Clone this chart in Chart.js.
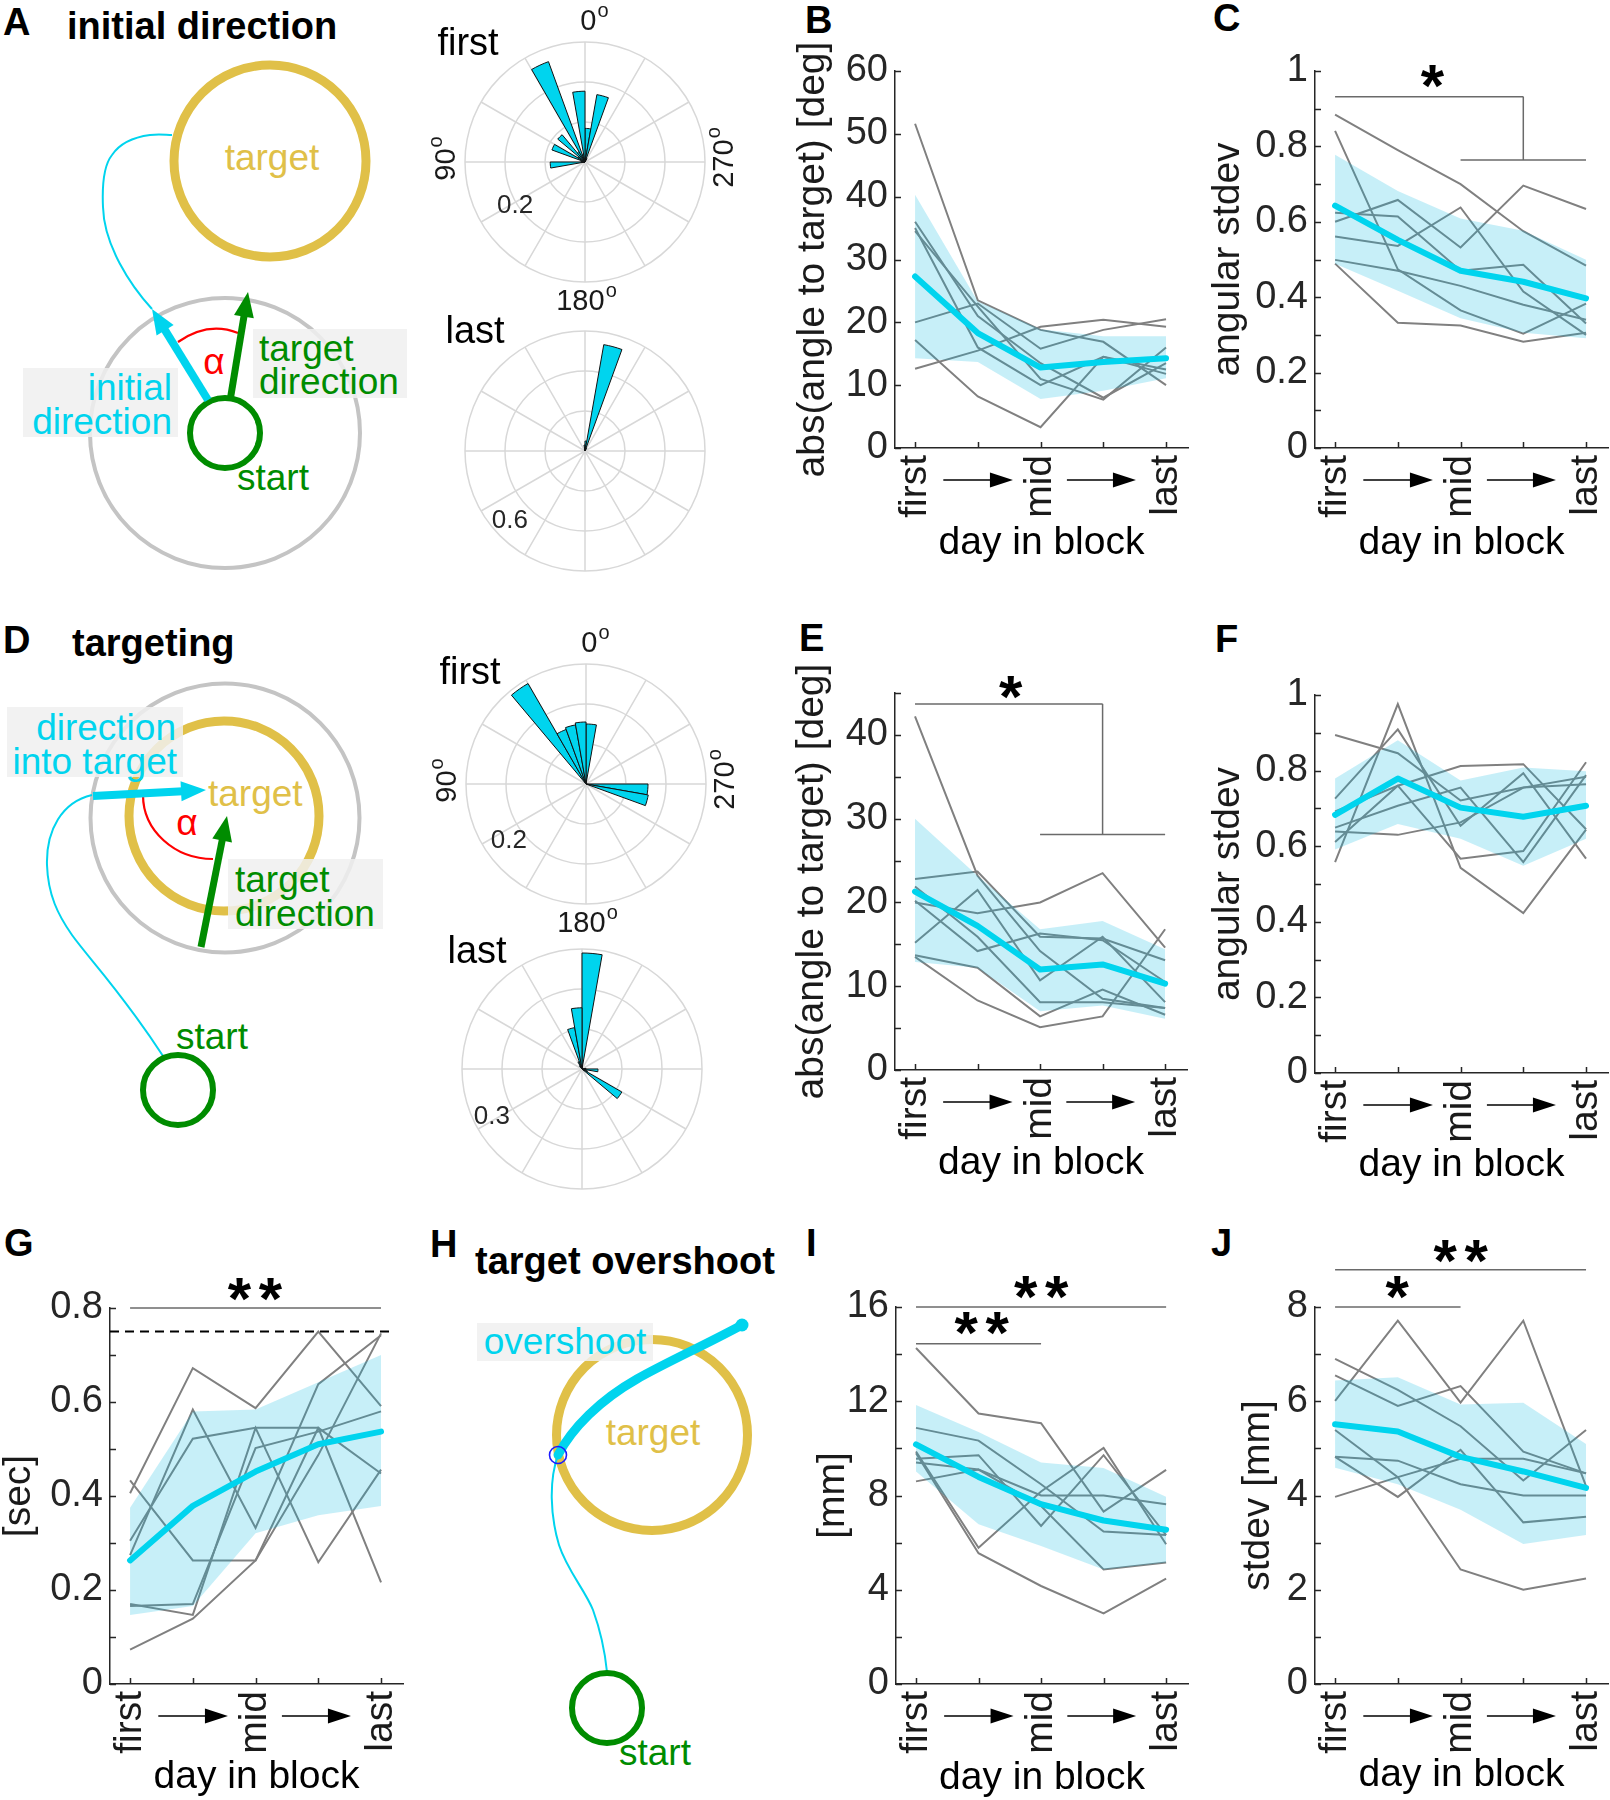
<!DOCTYPE html>
<html>
<head>
<meta charset="utf-8">
<script src="https://cdn.jsdelivr.net/npm/chart.js@4.4.0/dist/chart.umd.min.js"></script>
<style>
  body { margin: 0; background: #fff; }
  #fig { position: relative; width: 1610px; height: 1800px; overflow: hidden; background: #fff; }
  #fig canvas { position: absolute; }
  #sketch { position: absolute; left: 0; top: 0; font-family: "Liberation Sans", Arial, sans-serif; }
  #sketch text { dominant-baseline: central; }
  .lab { font-weight: bold; font-size: 38px; fill: #000; }
  .t37 { font-size: 37px; }
</style>
</head>
<body>
<div id="fig">
<svg id="sketch" width="1610" height="1800"></svg>
</div>
<script>
// ---- data ----
const days = [1, 2, 3, 4, 5];
const dayLabels = ["first", "", "mid", "", "last"];
const arrowSpans = [[1.45, 2.56], [3.42, 4.52]];

// B: initial direction, abs angle
const bMean = [27.3, 18.3, 12.8, 13.7, 14.3];
const bUpper = [40.3, 23.3, 18.9, 17.8, 17.8];
const bLower = [14.3, 13.7, 7.8, 9.1, 11.1];
const bSubjects = [
  [51.6, 23.5, 18.8, 16.9, 10.0],
  [36.0, 21.0, 13.5, 8.0, 13.5],
  [35.0, 16.0, 10.0, 14.5, 12.5],
  [34.5, 22.5, 11.0, 7.7, 16.0],
  [20.0, 23.0, 15.8, 18.8, 20.5],
  [17.2, 8.2, 3.3, 14.5, 11.8],
  [12.6, 15.5, 19.3, 20.4, 19.3]
];

// C: initial direction, angular stdev
const cMean = [0.643, 0.552, 0.470, 0.441, 0.397];
const cUpper = [0.778, 0.682, 0.609, 0.576, 0.499];
const cLower = [0.489, 0.417, 0.344, 0.306, 0.291];
const cSubjects = [
  [0.884, 0.79, 0.70, 0.575, 0.484],
  [0.841, 0.474, 0.365, 0.303, 0.383],
  [0.60, 0.658, 0.532, 0.696, 0.634],
  [0.624, 0.614, 0.470, 0.486, 0.330],
  [0.561, 0.536, 0.638, 0.415, 0.30],
  [0.499, 0.470, 0.430, 0.380, 0.340],
  [0.489, 0.332, 0.325, 0.282, 0.306]
];

// E: targeting, abs angle
const eMean = [21.3, 17.2, 12.0, 12.6, 10.3];
const eUpper = [30.0, 23.2, 16.8, 17.8, 14.4];
const eLower = [12.9, 12.2, 7.0, 7.7, 6.1];
const eSubjects = [
  [42.2, 23.2, 14.2, 8.5, 7.4],
  [22.8, 23.7, 15.9, 15.7, 13.1],
  [13.7, 12.2, 6.4, 9.6, 6.6],
  [13.5, 8.3, 5.1, 6.4, 16.8],
  [20.0, 18.7, 20.0, 23.5, 14.6],
  [15.2, 21.5, 10.7, 15.9, 8.1],
  [21.9, 15.9, 8.1, 8.1, 7.4],
  [20.2, 14.2, 16.3, 15.5, 10.5]
];

// F: targeting, angular stdev
const fMean = [0.683, 0.779, 0.702, 0.678, 0.707];
const fUpper = [0.779, 0.880, 0.774, 0.808, 0.798];
const fLower = [0.591, 0.659, 0.620, 0.548, 0.620];
const fSubjects = [
  [0.894, 0.846, 0.721, 0.755, 0.764],
  [0.558, 0.976, 0.543, 0.423, 0.644],
  [0.726, 0.909, 0.654, 0.793, 0.567],
  [0.639, 0.630, 0.663, 0.755, 0.784],
  [0.611, 0.760, 0.812, 0.817, 0.645],
  [0.649, 0.707, 0.755, 0.558, 0.788],
  [0.692, 0.760, 0.567, 0.587, 0.822]
];

// G: time [sec]
const gMean = [0.263, 0.379, 0.452, 0.510, 0.537];
const gUpper = [0.375, 0.58, 0.584, 0.642, 0.70];
const gLower = [0.147, 0.166, 0.321, 0.359, 0.379];
const gSubjects = [
  [0.073, 0.139, 0.263, 0.487, 0.746],
  [0.433, 0.263, 0.263, 0.545, 0.448],
  [0.406, 0.672, 0.587, 0.750, 0.591],
  [0.305, 0.522, 0.545, 0.545, 0.216],
  [0.166, 0.170, 0.502, 0.537, 0.580],
  [0.274, 0.584, 0.332, 0.638, 0.742],
  [0.170, 0.147, 0.545, 0.259, 0.456]
];
const gLimit = 0.75;

// I: overshoot [mm]
const iMean = [10.17, 8.79, 7.63, 6.94, 6.55];
const iUpper = [11.84, 10.7, 9.4, 9.17, 7.94];
const iLower = [9.02, 6.78, 5.86, 4.86, 5.16];
const iSubjects = [
  [14.26, 11.48, 11.07, 7.32, 9.09],
  [10.87, 10.33, 8.48, 6.47, 6.32],
  [9.87, 5.78, 8.17, 10.02, 5.93],
  [9.79, 5.55, 4.16, 3.0, 4.47],
  [9.56, 9.71, 6.71, 9.71, 6.32],
  [9.4, 9.1, 8.0, 8.0, 7.63],
  [8.6, 9.1, 7.55, 4.86, 5.16]
];

// J: overshoot stdev [mm]
const jMean = [5.51, 5.36, 4.82, 4.51, 4.16];
const jUpper = [6.44, 6.51, 5.93, 5.97, 5.09];
const jLower = [4.59, 4.24, 3.70, 2.97, 3.16];
const jSubjects = [
  [6.01, 7.71, 5.97, 7.71, 4.2],
  [6.9, 6.24, 5.47, 4.32, 5.39],
  [6.55, 5.9, 6.32, 4.93, 4.47],
  [5.39, 4.39, 2.43, 2.0, 2.24],
  [4.82, 4.74, 4.24, 4.0, 4.0],
  [4.82, 3.97, 4.97, 3.43, 3.55],
  [3.97, 4.39, 4.78, 4.78, 4.47]
];

// rose histograms: 36 bins of 10 deg, counter-clockwise from 0 deg (top)
const roseInitFirst = [
  0.177, 0.02, 0.267, 0.03, 0.089, 0.02, 0.088, 0.01, 0.01, 0.087, 0, 0,
  0, 0, 0, 0, 0, 0, 0, 0, 0, 0, 0, 0,
  0, 0, 0, 0, 0, 0, 0, 0, 0, 0.01, 0.171, 0.084
];
const roseInitLast = [
  0.03, 0.01, 0, 0, 0, 0, 0, 0, 0, 0, 0, 0,
  0, 0, 0, 0, 0, 0, 0, 0, 0, 0, 0, 0,
  0, 0, 0, 0, 0, 0, 0, 0, 0, 0.015, 0.54, 0.05
];
const roseTargFirst = [
  0.155, 0.15, 0.145, 0.29, 0, 0, 0, 0, 0, 0, 0, 0,
  0, 0, 0, 0, 0, 0, 0, 0, 0, 0, 0, 0,
  0, 0.158, 0.155, 0, 0, 0, 0, 0, 0, 0, 0, 0.15
];
const roseTargLast = [
  0.153, 0.105, 0.02, 0.01, 0, 0, 0, 0, 0, 0, 0, 0,
  0, 0, 0, 0, 0, 0, 0, 0, 0, 0, 0, 0.115,
  0.015, 0, 0.04, 0.01, 0, 0, 0, 0, 0, 0, 0, 0.29
];

// ---- styles ----
const FONT = '"Liberation Sans", Arial, sans-serif';
const AXIS = "#262626";
const GRAY = "rgb(128,128,128)";
const CYAN = "rgb(0,212,238)";
const BAND = "rgba(0,184,224,0.22)";
const GOLD = "#e0c048";
const GREEN = "#008c00";
const ROSE_GRID = "#d8d8d8";

Chart.defaults.font.family = FONT;
Chart.defaults.color = AXIS;
Chart.defaults.animation = false;

const fig = document.getElementById("fig");

function addCanvas(left, top, w, h) {
  const cv = document.createElement("canvas");
  cv.width = w;
  cv.height = h;
  cv.style.left = left + "px";
  cv.style.top = top + "px";
  fig.appendChild(cv);
  return cv;
}

function fmtTick(v) {
  return String(parseFloat(v.toFixed(2)));
}

const extrasPlugin = {
  id: "extras",
  afterDraw(chart, args, o) {
    const { ctx, chartArea: a } = chart;
    const x = chart.scales.x;
    const y = chart.scales.y;
    ctx.save();

    // MATLAB style inward ticks
    ctx.strokeStyle = AXIS;
    ctx.lineWidth = 1.5;
    ctx.beginPath();
    y.ticks.forEach((t) => {
      const p = Math.round(y.getPixelForValue(t.value)) + 0.5;
      ctx.moveTo(a.left, p);
      ctx.lineTo(a.left + 6, p);
    });
    x.ticks.forEach((t) => {
      const p = Math.round(x.getPixelForValue(t.value)) + 0.5;
      ctx.moveTo(p, a.bottom);
      ctx.lineTo(p, a.bottom - 6);
    });
    ctx.stroke();

    // arrows between first -> mid -> last
    ctx.strokeStyle = "#000";
    ctx.fillStyle = "#000";
    const ay = a.bottom + 32;
    arrowSpans.forEach(([v1, v2]) => {
      const x1 = x.getPixelForValue(v1);
      const x2 = x.getPixelForValue(v2);
      ctx.beginPath();
      ctx.moveTo(x1, ay);
      ctx.lineTo(x2 - 18, ay);
      ctx.stroke();
      ctx.beginPath();
      ctx.moveTo(x2, ay);
      ctx.lineTo(x2 - 23, ay - 7.5);
      ctx.lineTo(x2 - 23, ay + 7.5);
      ctx.closePath();
      ctx.fill();
    });

    // significance brackets
    ctx.strokeStyle = "#6a6a6a";
    ctx.lineWidth = 1.5;
    (o.brackets || []).forEach(([x1, y1, x2, y2]) => {
      ctx.beginPath();
      ctx.moveTo(x.getPixelForValue(x1), y.getPixelForValue(y1));
      ctx.lineTo(x.getPixelForValue(x2), y.getPixelForValue(y2));
      ctx.stroke();
    });

    // stars
    ctx.fillStyle = "#000";
    ctx.font = `bold 60px ${FONT}`;
    ctx.textAlign = "center";
    ctx.textBaseline = "alphabetic";
    (o.stars || []).forEach((s) => {
      const cx = x.getPixelForValue(s.x);
      const cy = y.getPixelForValue(s.y);
      for (let i = 0; i < s.n; i++) {
        ctx.fillText("*", cx + (i - (s.n - 1) / 2) * 31, cy + 27);
      }
    });
    ctx.restore();
  }
};

function linePanel(p) {
  const fs = 39;
  const H = Math.round(p.xTitleY + fs / 2 - p.box.T);
  const padLeft = Math.max(0, p.yTitleX - fs / 2 - p.box.L);
  const yW = p.area.l - p.box.L - padLeft;
  const xH = p.box.T + H - p.area.b;
  const cv = addCanvas(p.box.L, p.box.T, p.box.W, H);
  const pts = (arr) => days.map((d, i) => ({ x: d, y: arr[i] }));

  const datasets = [
    { data: pts(p.mean), borderColor: CYAN, borderWidth: 6, pointRadius: 0,
      borderJoinStyle: "round", borderCapStyle: "round", order: 1 },
    { data: pts(p.upper), borderWidth: 0, borderColor: "rgba(0,0,0,0)", pointRadius: 0,
      backgroundColor: BAND, fill: "+1", order: 2 },
    { data: pts(p.lower), borderWidth: 0, borderColor: "rgba(0,0,0,0)", pointRadius: 0,
      fill: false, order: 2 }
  ];
  p.subjects.forEach((s) => {
    datasets.push({ data: pts(s), borderColor: GRAY, borderWidth: 2, pointRadius: 0, order: 3 });
  });
  if (p.refLine) {
    datasets.push({
      data: [{ x: 0.68, y: p.refLine }, { x: 5.21, y: p.refLine }],
      borderColor: "#000", borderWidth: 2, borderDash: [9, 6], pointRadius: 0, order: 0
    });
  }

  new Chart(cv, {
    type: "line",
    data: { datasets },
    options: {
      responsive: false,
      devicePixelRatio: 1,
      animation: false,
      layout: {
        padding: { left: padLeft, right: p.box.L + p.box.W - p.area.r, top: p.area.t - p.box.T, bottom: 0 }
      },
      plugins: {
        legend: { display: false },
        tooltip: { enabled: false },
        extras: { brackets: p.brackets, stars: p.stars }
      },
      scales: {
        x: {
          type: "linear",
          min: 0.68,
          max: 5.35,
          afterBuildTicks: (s) => { s.ticks = days.map((v) => ({ value: v })); },
          ticks: {
            autoSkip: false, minRotation: 90, maxRotation: 90, padding: 7,
            color: "#1a1a1a", font: { size: 39 },
            callback: (v) => dayLabels[Math.round(v) - 1] || ""
          },
          grid: { display: false, drawTicks: false },
          border: { display: true, color: AXIS, width: 1.5 },
          title: { display: true, text: "day in block", color: "#000", padding: 0, font: { size: fs, lineHeight: 1 } },
          afterFit: (s) => {
            s.height = xH;
            s.paddingLeft = 0; s.paddingRight = 0;
          }
        },
        y: {
          type: "linear",
          min: p.yMin,
          max: p.yMax,
          ticks: {
            stepSize: p.yStep, autoSkip: false, padding: 7, font: { size: 38 },
            callback: (v) => {
              const q = v / p.labelStep;
              return Math.abs(q - Math.round(q)) < 1e-6 ? fmtTick(v) : "";
            }
          },
          grid: { display: false, drawTicks: false },
          border: { display: true, color: AXIS, width: 1.5 },
          title: { display: true, text: p.yTitle, color: "#1a1a1a", padding: 0, font: { size: fs, lineHeight: 1 } },
          afterFit: (s) => {
            s.width = yW;
            s.paddingTop = 0; s.paddingBottom = 0;
          }
        }
      }
    },
    plugins: [extrasPlugin]
  });
}

// ---- rose plots ----
function degLabel(ctx, txt, x, y, rot) {
  ctx.save();
  ctx.translate(x, y);
  ctx.rotate(rot);
  ctx.font = `29px ${FONT}`;
  const w1 = ctx.measureText(txt).width;
  ctx.font = `20px ${FONT}`;
  const w2 = ctx.measureText("o").width;
  const x0 = -(w1 + w2) / 2;
  ctx.textAlign = "left";
  ctx.textBaseline = "middle";
  ctx.font = `29px ${FONT}`;
  ctx.fillText(txt, x0, 0);
  ctx.font = `20px ${FONT}`;
  ctx.fillText("o", x0 + w1 + 1, -11);
  ctx.restore();
}

const rosePlugin = {
  id: "rose",
  beforeDatasetsDraw(chart) {
    const s = chart.scales.r;
    const ctx = chart.ctx;
    ctx.save();
    ctx.strokeStyle = ROSE_GRID;
    ctx.lineWidth = 1.5;
    ctx.beginPath();
    for (let k = 0; k < 12; k++) {
      const a = (k * Math.PI) / 6;
      ctx.moveTo(s.xCenter, s.yCenter);
      ctx.lineTo(s.xCenter - s.drawingArea * Math.sin(a), s.yCenter - s.drawingArea * Math.cos(a));
    }
    ctx.stroke();
    ctx.restore();
  },
  afterDraw(chart, args, o) {
    const s = chart.scales.r;
    const ctx = chart.ctx;
    const cx = s.xCenter;
    const cy = s.yCenter;
    ctx.save();
    ctx.textAlign = "center";
    ctx.textBaseline = "middle";
    ctx.fillStyle = AXIS;
    ctx.font = `26px ${FONT}`;
    const rr = s.getDistanceFromCenterForValue(o.ringValue);
    const ra = (o.ringAngle * Math.PI) / 180;
    ctx.fillText(o.ringText, cx - rr * Math.sin(ra), cy - rr * Math.cos(ra));
    ctx.fillStyle = "#000";
    ctx.font = `38px ${FONT}`;
    ctx.fillText(o.name, cx + o.nameDx, cy + o.nameDy);
    if (o.angles) {
      ctx.fillStyle = "#1a1a1a";
      degLabel(ctx, "0", cx + 9, cy - 140, 0);
      degLabel(ctx, "90", cx - 138, cy - 3, -Math.PI / 2);
      degLabel(ctx, "270", cx + 140, cy - 4, -Math.PI / 2);
      degLabel(ctx, "180", cx + 1, cy + 140, 0);
    }
    ctx.restore();
  }
};

function rosePanel(r) {
  const size = 340;
  const R = 120;
  const cv = addCanvas(r.cx - size / 2, r.cy - size / 2, size, size);
  // polarArea runs clockwise, the rose is counter-clockwise
  const cw = r.bins.slice().reverse();
  new Chart(cv, {
    type: "polarArea",
    data: {
      labels: cw.map((_, j) => String(350 - 10 * j)),
      datasets: [{ data: cw, backgroundColor: CYAN, borderColor: "#111", borderWidth: 1 }]
    },
    options: {
      responsive: false,
      devicePixelRatio: 1,
      animation: false,
      layout: { padding: size / 2 - R },
      plugins: {
        legend: { display: false },
        tooltip: { enabled: false },
        rose: {
          ringText: r.ringText, ringValue: r.ringValue, ringAngle: r.ringAngle,
          name: r.name, nameDx: r.nameDx, nameDy: r.nameDy, angles: r.angles
        }
      },
      scales: {
        r: {
          min: 0,
          max: r.max,
          ticks: { display: false, stepSize: r.step },
          grid: { color: ROSE_GRID, lineWidth: 1.5 },
          angleLines: { display: false },
          pointLabels: { display: false }
        }
      }
    },
    plugins: [rosePlugin]
  });
}

rosePanel({ cx: 585, cy: 162, bins: roseInitFirst, max: 0.3, step: 0.1, ringText: "0.2", ringValue: 0.206, ringAngle: 122,
  name: "first", nameDx: -117, nameDy: -117, angles: true });
rosePanel({ cx: 585, cy: 451, bins: roseInitLast, max: 0.6, step: 0.2, ringText: "0.6", ringValue: 0.514, ringAngle: 133,
  name: "last", nameDx: -110, nameDy: -118, angles: false });
rosePanel({ cx: 586, cy: 784, bins: roseTargFirst, max: 0.3, step: 0.1, ringText: "0.2", ringValue: 0.24, ringAngle: 126.5,
  name: "first", nameDx: -116, nameDy: -110, angles: true });
rosePanel({ cx: 582, cy: 1069, bins: roseTargLast, max: 0.3, step: 0.1, ringText: "0.3", ringValue: 0.255, ringAngle: 118,
  name: "last", nameDx: -105, nameDy: -116, angles: false });

// ---- line panels ----
linePanel({
  box: { L: 775, T: 0, W: 425 }, area: { l: 895, t: 71, r: 1188, b: 448 }, yTitleX: 813, xTitleY: 543,
  yMin: 0, yMax: 60, yStep: 10, labelStep: 10, yTitle: "abs(angle to target) [deg]",
  subjects: bSubjects, mean: bMean, upper: bUpper, lower: bLower
});
linePanel({
  box: { L: 1200, T: 0, W: 410 }, area: { l: 1315, t: 71, r: 1608, b: 448 }, yTitleX: 1228, xTitleY: 543,
  yMin: 0, yMax: 1, yStep: 0.1, labelStep: 0.2, yTitle: "angular stdev",
  subjects: cSubjects, mean: cMean, upper: cUpper, lower: cLower,
  brackets: [[1, 0.932, 4, 0.932], [4, 0.932, 4, 0.764], [3, 0.764, 5, 0.764]],
  stars: [{ x: 2.55, y: 0.98, n: 1 }]
});
linePanel({
  box: { L: 775, T: 620, W: 425 }, area: { l: 895, t: 693, r: 1187, b: 1070 }, yTitleX: 812, xTitleY: 1163,
  yMin: 0, yMax: 45, yStep: 5, labelStep: 10, yTitle: "abs(angle to target) [deg]",
  subjects: eSubjects, mean: eMean, upper: eUpper, lower: eLower,
  brackets: [[1, 43.7, 4, 43.7], [4, 43.7, 4, 28.1], [3, 28.1, 5, 28.1]],
  stars: [{ x: 2.53, y: 45.4, n: 1 }]
});
linePanel({
  box: { L: 1200, T: 620, W: 410 }, area: { l: 1315, t: 695, r: 1608, b: 1073 }, yTitleX: 1228, xTitleY: 1165,
  yMin: 0, yMax: 1, yStep: 0.1, labelStep: 0.2, yTitle: "angular stdev",
  subjects: fSubjects, mean: fMean, upper: fUpper, lower: fLower
});
linePanel({
  box: { L: 0, T: 1230, W: 420 }, area: { l: 110, t: 1308, r: 403, b: 1684 }, yTitleX: 18, xTitleY: 1777,
  yMin: 0, yMax: 0.8, yStep: 0.1, labelStep: 0.2, yTitle: "[sec]",
  subjects: gSubjects, mean: gMean, upper: gUpper, lower: gLower, refLine: gLimit,
  brackets: [[1, 0.8, 5, 0.8]],
  stars: [{ x: 2.99, y: 0.834, n: 2 }]
});
linePanel({
  box: { L: 800, T: 1230, W: 400 }, area: { l: 896, t: 1307, r: 1188, b: 1684 }, yTitleX: 833, xTitleY: 1778,
  yMin: 0, yMax: 16, yStep: 2, labelStep: 4, yTitle: "[mm]",
  subjects: iSubjects, mean: iMean, upper: iUpper, lower: iLower,
  brackets: [[1, 16, 5, 16], [1, 14.44, 3, 14.44]],
  stars: [{ x: 3.0, y: 16.73, n: 2 }, { x: 2.05, y: 15.2, n: 2 }]
});
linePanel({
  box: { L: 1200, T: 1230, W: 410 }, area: { l: 1315, t: 1307, r: 1608, b: 1684 }, yTitleX: 1258, xTitleY: 1775,
  yMin: 0, yMax: 8, yStep: 1, labelStep: 2, yTitle: "stdev [mm]",
  subjects: jSubjects, mean: jMean, upper: jUpper, lower: jLower,
  brackets: [[1, 8.79, 5, 8.79], [1, 8.0, 3, 8.0]],
  stars: [{ x: 3.0, y: 9.13, n: 2 }, { x: 1.99, y: 8.36, n: 1 }]
});

// ---- schematics (A, D, H) and panel letters ----
function arrow(x1, y1, x2, y2, color, w, hl, hw) {
  const len = Math.hypot(x2 - x1, y2 - y1);
  const ux = (x2 - x1) / len;
  const uy = (y2 - y1) / len;
  const bx = x2 - ux * hl;
  const by = y2 - uy * hl;
  return `<line x1="${x1}" y1="${y1}" x2="${bx + ux * 2}" y2="${by + uy * 2}" stroke="${color}" stroke-width="${w}"/>` +
    `<polygon points="${x2},${y2} ${bx - uy * hw},${by + ux * hw} ${bx + uy * hw},${by - ux * hw}" fill="${color}"/>`;
}

const BOX = "rgba(240,240,240,0.85)";
document.getElementById("sketch").innerHTML = `
  <text class="lab" x="3" y="22">A</text>
  <text class="lab" x="67" y="26">initial direction</text>
  <circle cx="270" cy="161" r="96" fill="none" stroke="${GOLD}" stroke-width="9"/>
  <text class="t37" x="272" y="157" text-anchor="middle" fill="${GOLD}">target</text>
  <circle cx="225" cy="433" r="135" fill="none" stroke="#c4c4c4" stroke-width="4"/>
  <path d="M152,309 C130,285 104,245 103,207 C102,185 104,165 112,155 C120,143 135,137 150,135 C160,134 166,135 172,135" fill="none" stroke="${CYAN}" stroke-width="2"/>
  <rect x="23" y="368" width="155" height="69" fill="${BOX}"/>
  <rect x="253" y="329" width="154" height="69" fill="${BOX}"/>
  <circle cx="225" cy="433" r="35" fill="none" stroke="${GREEN}" stroke-width="6"/>
  <path d="M178,342 Q208,321 238,333" fill="none" stroke="#ff0000" stroke-width="2.2"/>
  ${arrow(208, 400, 152, 309, CYAN, 8, 25, 10)}
  ${arrow(230, 401, 248, 292, GREEN, 7, 25, 10)}
  <text class="t37" x="214" y="361" text-anchor="middle" fill="#ff0000">α</text>
  <text class="t37" x="172" y="387" text-anchor="end" fill="${CYAN}">initial</text>
  <text class="t37" x="172" y="421" text-anchor="end" fill="${CYAN}">direction</text>
  <text class="t37" x="259" y="348" fill="${GREEN}">target</text>
  <text class="t37" x="259" y="381" fill="${GREEN}">direction</text>
  <text class="t37" x="273" y="477" text-anchor="middle" fill="${GREEN}">start</text>

  <text class="lab" x="3" y="640">D</text>
  <text class="lab" x="72" y="643">targeting</text>
  <circle cx="225" cy="818" r="134.5" fill="none" stroke="#c4c4c4" stroke-width="4"/>
  <circle cx="224" cy="816" r="95" fill="none" stroke="${GOLD}" stroke-width="9"/>
  <path d="M92,795 C62,802 46,830 47,865 C48,895 58,915 72,935 C90,960 120,990 163,1056" fill="none" stroke="${CYAN}" stroke-width="2"/>
  <rect x="7" y="707" width="176" height="70" fill="${BOX}"/>
  <rect x="228" y="859" width="155" height="70" fill="${BOX}"/>
  <path d="M143,795 A70,64 0 0 0 213,859" fill="none" stroke="#ff0000" stroke-width="2.2"/>
  ${arrow(93, 796, 206, 790, CYAN, 8, 25, 10)}
  ${arrow(201, 947, 227, 816, GREEN, 7, 25, 10)}
  <text class="t37" x="187" y="822" text-anchor="middle" fill="#ff0000">α</text>
  <text class="t37" x="208" y="793" fill="${GOLD}">target</text>
  <text class="t37" x="176" y="727" text-anchor="end" fill="${CYAN}">direction</text>
  <text class="t37" x="177" y="761" text-anchor="end" fill="${CYAN}">into target</text>
  <text class="t37" x="235" y="879" fill="${GREEN}">target</text>
  <text class="t37" x="235" y="913" fill="${GREEN}">direction</text>
  <circle cx="178" cy="1090" r="35" fill="none" stroke="${GREEN}" stroke-width="6"/>
  <text class="t37" x="212" y="1036" text-anchor="middle" fill="${GREEN}">start</text>

  <text class="lab" x="430" y="1244">H</text>
  <text class="lab" x="475" y="1261">target overshoot</text>
  <circle cx="652" cy="1435" r="95.5" fill="none" stroke="${GOLD}" stroke-width="9"/>
  <rect x="477" y="1323" width="176" height="38" fill="${BOX}"/>
  <text class="t37" x="565" y="1341" text-anchor="middle" fill="${CYAN}">overshoot</text>
  <text class="t37" x="653" y="1432" text-anchor="middle" fill="${GOLD}">target</text>
  <path d="M558,1455 C549,1480 550,1515 559,1545 C567,1570 585,1590 593,1610 C601,1632 605,1652 607,1672" fill="none" stroke="${CYAN}" stroke-width="2"/>
  <path d="M558,1455 C572,1428 600,1400 637,1379 C665,1363 705,1345 742,1325" fill="none" stroke="${CYAN}" stroke-width="9" stroke-linecap="round"/>
  <circle cx="742" cy="1325" r="6.5" fill="${CYAN}"/>
  <circle cx="558" cy="1455" r="8.5" fill="none" stroke="#1a1aff" stroke-width="1.6"/>
  <circle cx="607" cy="1708" r="35" fill="none" stroke="${GREEN}" stroke-width="6"/>
  <text class="t37" x="655" y="1752" text-anchor="middle" fill="${GREEN}">start</text>

  <text class="lab" x="805" y="20">B</text>
  <text class="lab" x="1213" y="18">C</text>
  <text class="lab" x="799" y="638">E</text>
  <text class="lab" x="1215" y="639">F</text>
  <text class="lab" x="4" y="1243">G</text>
  <text class="lab" x="806" y="1243">I</text>
  <text class="lab" x="1211" y="1243">J</text>
`;
</script>
</body>
</html>
